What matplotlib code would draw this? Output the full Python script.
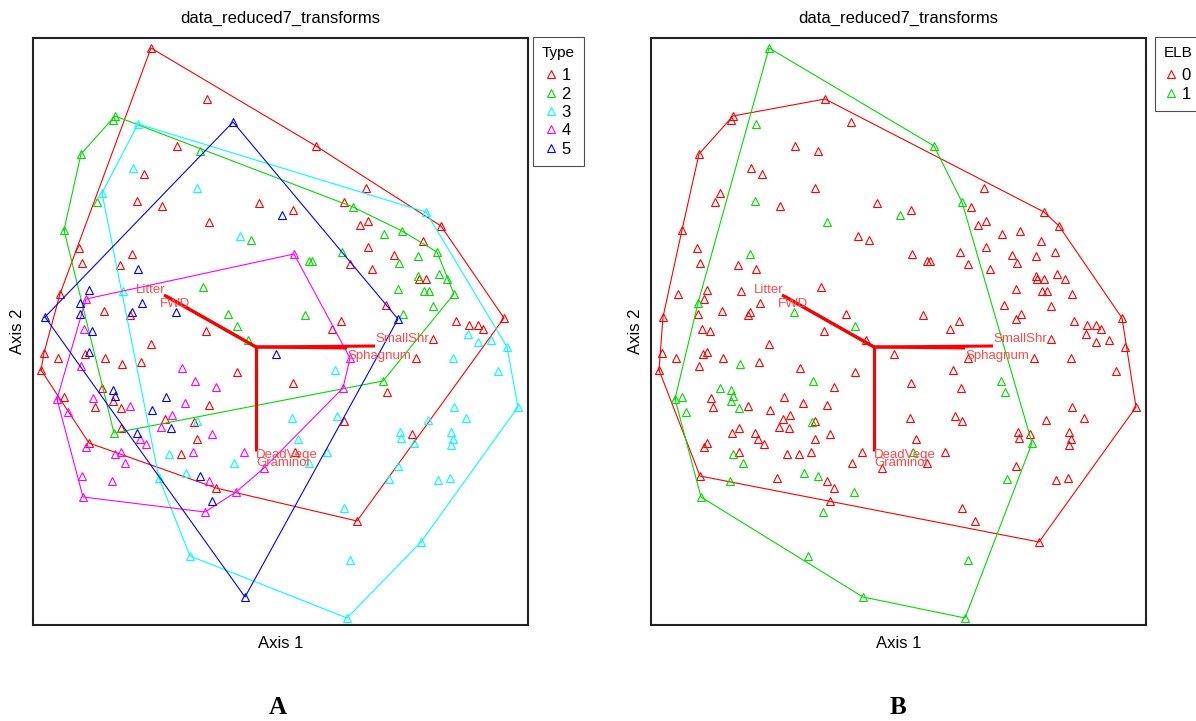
# ----------------------------------------------------------------------
#   Imports
# ----------------------------------------------------------------------

import numpy as np
import matplotlib
matplotlib.use('Agg')
import matplotlib.pyplot as plt
from matplotlib.lines import Line2D

plt.rcParams['font.family'] = ['Liberation Sans', 'DejaVu Sans']

# ----------------------------------------------------------------------
#   Data (ordination scores; axis 2 grows downward)
# ----------------------------------------------------------------------

axis1 = [118, 174, 82, 80, 105, 200, 144, 167, 48, 100, 111, 164, 69, 64, 104,
         129, 226, 249, 176, 31, 207, 218, 46, 99, 49, 87, 105, 170, 56, 90,
         27, 53, 47, 109, 71, 99, 97, 143, 47, 195, 12, 204, 51, 59, 173,
         283, 333, 260, 311, 320, 393, 408, 327, 335, 351, 369, 390, 335, 309, 261,
         276, 279, 361, 385, 404, 317, 339, 366, 385, 386, 393, 406, 414, 365, 391,
         396, 421, 353, 400, 272, 370, 365, 308, 299, 423, 436, 445, 450, 471, 435,
         215, 118, 11, 25, 52, 56, 72, 89, 108, 48, 243, 8, 149, 204, 162,
         183, 69, 80, 82, 31, 24, 60, 80, 62, 88, 97, 133, 152, 176, 119,
         35, 139, 132, 161, 164, 128, 138, 88, 81, 104, 107, 113, 164, 179, 56,
         53, 82, 88, 92, 136, 148, 160, 211, 201, 231, 49, 79, 126, 153, 167,
         176, 183, 203, 50, 179, 172, 157, 212,
         400, 445, 458, 474, 317, 383, 420, 465, 302, 260, 350, 310, 354, 485, 421,
         433, 395, 259, 304, 311, 367, 368, 379, 381, 418, 420, 418, 265, 294, 276,
         262, 365, 356, 405, 417, 311, 324, 388, 317, 314]

axis2 = [10, 61, 78, 82, 86, 84, 108, 113, 116, 130, 136, 150, 155, 164, 163,
         168, 165, 177, 184, 192, 198, 202, 210, 216, 225, 227, 231, 249, 252, 253,
         256, 261, 265, 265, 273, 274, 277, 274, 276, 276, 279, 288, 291, 293, 293,
         108, 150, 172, 164, 169, 174, 188, 187, 183, 196, 193, 203, 209, 214, 216,
         223, 223, 217, 218, 214, 226, 231, 225, 238, 241, 241, 236, 241, 251, 253,
         253, 256, 267, 268, 277, 276, 281, 283, 291, 283, 287, 287, 291, 280, 296,
         302, 306, 315, 320, 316, 314, 320, 326, 324, 328, 316, 332, 330, 334, 343,
         349, 350, 352, 358, 359, 361, 360, 363, 369, 370, 368, 359, 365, 367, 372,
         374, 377, 381, 384, 383, 389, 390, 390, 395, 395, 401, 406, 401, 396, 405,
         409, 416, 414, 425, 416, 416, 414, 414, 425, 430, 438, 443, 440, 435, 438,
         443, 450, 454, 459, 463, 474, 518, 559,
         301, 304, 302, 309, 320, 320, 320, 333, 332, 345, 343, 350, 354, 369, 369,
         380, 382, 380, 378, 383, 394, 400, 396, 405, 394, 401, 407, 401, 414, 425,
         414, 428, 441, 442, 440, 470, 483, 504, 522, 580]

veg_type = [1, 1, 2, 2, 3, 5, 1, 2, 2, 3, 1, 3, 3, 2, 1,
            1, 1, 5, 1, 2, 3, 2, 1, 1, 1, 1, 5, 2, 5, 3,
            1, 4, 5, 5, 1, 5, 1, 5, 5, 2, 5, 2, 4, 5, 1,
            1, 1, 1, 1, 2, 3, 1, 1, 1, 2, 2, 1, 1, 2, 4,
            2, 2, 1, 2, 2, 1, 1, 2, 2, 1, 1, 2, 2, 2, 2,
            2, 2, 1, 2, 2, 2, 5, 1, 1, 1, 1, 1, 1, 1, 3,
            2, 1, 1, 1, 1, 5, 1, 1, 1, 4, 5, 1, 4, 1, 4,
            4, 1, 5, 5, 1, 4, 4, 1, 1, 1, 4, 5, 4, 1, 5,
            4, 4, 1, 1, 3, 4, 5, 1, 2, 5, 4, 4, 1, 4, 1,
            4, 4, 4, 4, 3, 1, 4, 4, 3, 4, 4, 4, 3, 3, 5,
            4, 1, 4, 4, 5, 4, 3, 5,
            1, 3, 3, 3, 4, 1, 3, 3, 3, 1, 2, 4, 1, 3, 3,
            3, 3, 3, 3, 1, 3, 3, 1, 3, 3, 3, 3, 3, 3, 3,
            1, 3, 3, 3, 3, 3, 1, 3, 3, 3]

elb = [1, 0, 0, 0, 1, 0, 0, 0, 0, 0, 0, 0, 0, 0, 1,
       0, 0, 1, 1, 0, 0, 0, 0, 1, 0, 0, 0, 0, 0, 0,
       0, 0, 1, 0, 0, 0, 0, 1, 0, 0, 0, 1, 0, 0, 0,
       1, 0, 0, 1, 0, 0, 0, 0, 0, 0, 0, 0, 0, 0, 0,
       0, 0, 0, 0, 0, 0, 0, 0, 0, 0, 0, 0, 0, 0, 0,
       0, 0, 0, 0, 0, 0, 0, 0, 0, 0, 0, 0, 0, 0, 0,
       0, 0, 0, 0, 0, 0, 0, 1, 0, 0, 0, 0, 0, 0, 1,
       0, 1, 1, 1, 1, 1, 0, 1, 0, 1, 0, 0, 0, 0, 0,
       1, 0, 0, 1, 0, 0, 0, 0, 0, 0, 0, 0, 0, 0, 0,
       0, 1, 0, 1, 0, 0, 0, 0, 0, 0, 0, 1, 0, 1, 1,
       0, 0, 1, 1, 0, 1, 1, 1,
       0, 0, 0, 0, 0, 0, 0, 0, 0, 0, 1, 0, 1, 0, 0,
       0, 0, 0, 0, 0, 0, 0, 0, 1, 0, 0, 0, 0, 0, 0,
       1, 0, 1, 0, 0, 0, 0, 0, 1, 1]

# joint plot vectors: origin and tips
vec_origin = (223, 309)
vec_names = ['Litter', 'FWD', 'SmallShr', 'Sphagnum', 'DeadVege', 'Graminoi']
vec_x = [131, 133, 342, 314, 223, 223]
vec_y = [257, 258, 308, 310, 410, 413]

type_labels = ['1', '2', '3', '4', '5']
elb_labels = ['0', '1']

# ----------------------------------------------------------------------
#   Helpers
# ----------------------------------------------------------------------

def convex_hull(pts):
    pts = sorted(set(pts))
    if len(pts) < 3:
        return pts
    def cross(o, a, b):
        return (a[0]-o[0])*(b[1]-o[1]) - (a[1]-o[1])*(b[0]-o[0])
    lower, upper = [], []
    for p in pts:
        while len(lower) >= 2 and cross(lower[-2], lower[-1], p) <= 0:
            lower.pop()
        lower.append(p)
    for p in reversed(pts):
        while len(upper) >= 2 and cross(upper[-2], upper[-1], p) <= 0:
            upper.pop()
        upper.append(p)
    return lower[:-1] + upper[:-1]


def plot_panel(ax, groups, labels, colors, title, legend_title, lg_x):

    x = np.array(axis1)
    y = np.array(axis2)

    for g, lab, col in zip(range(len(labels)), labels, colors):
        sel = groups == g
        hull = convex_hull(list(zip(x[sel], y[sel])))
        hull = hull + hull[:1]
        ax.plot([p[0] for p in hull], [p[1] for p in hull], '-', color=col, lw=0.8)
        ax.plot(x[sel], y[sel], '^', mfc='none', mec=col, ms=6, mew=0.8, ls='none')

    # joint plot
    for name, vx, vy in zip(vec_names, vec_x, vec_y):
        ax.plot([vec_origin[0], vx], [vec_origin[1], vy], '-', color='red', lw=2.2,
                solid_capstyle='butt')
    offs = {'Litter': (-28, 5), 'FWD': (-6, -8), 'SmallShr': (0, 7),
            'Sphagnum': (0, -8), 'DeadVege': (0, -7), 'Graminoi': (0, -12)}
    for name, vx, vy in zip(vec_names, vec_x, vec_y):
        ax.annotate(name, (vx, vy), xytext=offs[name], textcoords='offset pixels',
                    color='#ff4a4a', fontsize=9.5, ha='left', va='center')

    ax.set_xlim(0, 495)
    ax.set_ylim(587, 0)
    ax.set_xticks([])
    ax.set_yticks([])
    for sp in ax.spines.values():
        sp.set_linewidth(1.5)
        sp.set_color('#222222')

    ax.set_title(title, fontsize=12, pad=11)
    ax.set_xlabel('Axis 1', fontsize=12, labelpad=8)
    ax.set_ylabel('Axis 2', fontsize=12, labelpad=6)

    handles = [Line2D([0], [0], marker='^', mfc='none', mec=c, mew=0.8, ms=6, ls='none')
               for c in colors]
    lg = ax.legend(handles, labels, title=legend_title, loc='upper left',
                   bbox_to_anchor=(lg_x, 1.002), borderaxespad=0, fancybox=False,
                   edgecolor='#222222', fontsize=12, title_fontsize=11,
                   handlelength=0.6, handletextpad=0.3, labelspacing=0.2,
                   borderpad=0.55)
    lg.get_frame().set_linewidth(0.8)
    # a bit more room between legend title and entries
    lg._legend_box.sep = 6

# ----------------------------------------------------------------------
#   Main
# ----------------------------------------------------------------------

def main():

    fig = plt.figure(figsize=(11.96, 7.21), dpi=100)

    W, H = 1196., 721.
    axA = fig.add_axes([33/W, 1 - 625/H, 495/W, 587/H])
    axB = fig.add_axes([651/W, 1 - 625/H, 495/W, 587/H])

    plot_panel(axA, np.array(veg_type) - 1, type_labels,
               ['red', '#00dd00', 'cyan', 'magenta', 'blue'],
               'data_reduced7_transforms', 'Type', 1.01)
    plot_panel(axB, np.array(elb), elb_labels, ['red', '#00dd00'],
               'data_reduced7_transforms', 'ELB', 1.018)

    fig.text(278/W, 1 - 707/H, 'A', fontsize=18, fontweight='bold',
             family='Liberation Serif', ha='center', va='center')
    fig.text(898/W, 1 - 707/H, 'B', fontsize=18, fontweight='bold',
             family='Liberation Serif', ha='center', va='center')

    fig.savefig('out.png', dpi=100)
    plt.close()


if __name__ == '__main__':
    main()
